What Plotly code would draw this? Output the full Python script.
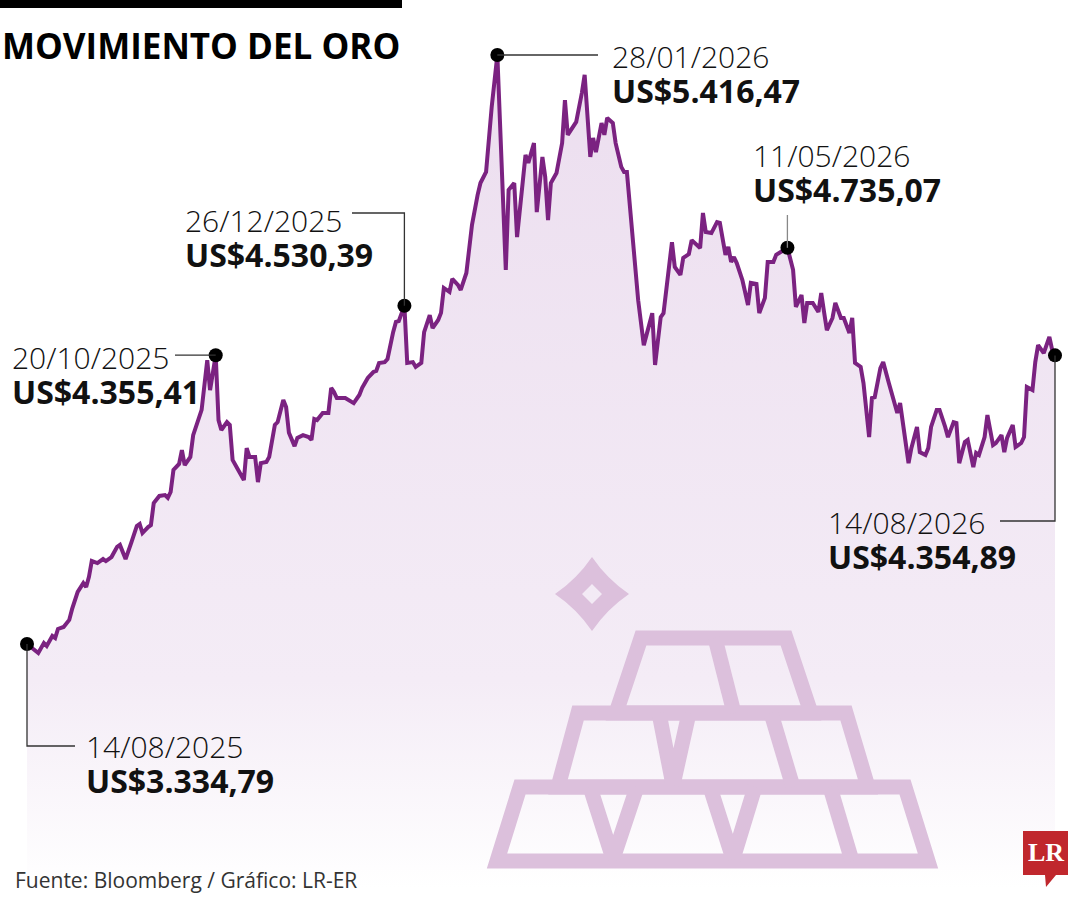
import plotly.graph_objects as go
import pandas as pd

# precio del oro (US$ por onza)
fechas = [
    "2025-08-14", "2025-08-18", "2025-08-20", "2025-08-21", "2025-08-23", "2025-08-24", "2025-08-25",
    "2025-08-27", "2025-08-29", "2025-08-30", "2025-09-01", "2025-09-03", "2025-09-04", "2025-09-05",
    "2025-09-06", "2025-09-08", "2025-09-10", "2025-09-11", "2025-09-13", "2025-09-15", "2025-09-16",
    "2025-09-18", "2025-09-20", "2025-09-22", "2025-09-23", "2025-09-24", "2025-09-26", "2025-09-27",
    "2025-09-28", "2025-09-30", "2025-10-02", "2025-10-03", "2025-10-04", "2025-10-05", "2025-10-07",
    "2025-10-08", "2025-10-09", "2025-10-11", "2025-10-12", "2025-10-13", "2025-10-15", "2025-10-17",
    "2025-10-18", "2025-10-20", "2025-10-21", "2025-10-22", "2025-10-24", "2025-10-25", "2025-10-26",
    "2025-10-28", "2025-10-30", "2025-10-31", "2025-11-01", "2025-11-03", "2025-11-04", "2025-11-05",
    "2025-11-07", "2025-11-08", "2025-11-10", "2025-11-11", "2025-11-13", "2025-11-14", "2025-11-15",
    "2025-11-17", "2025-11-18", "2025-11-20", "2025-11-22", "2025-11-23", "2025-11-24", "2025-11-25",
    "2025-11-27", "2025-11-29", "2025-11-30", "2025-12-01", "2025-12-02", "2025-12-05", "2025-12-07",
    "2025-12-08", "2025-12-10", "2025-12-11", "2025-12-13", "2025-12-15", "2025-12-16", "2025-12-17",
    "2025-12-19", "2025-12-20", "2025-12-22", "2025-12-23", "2025-12-24", "2025-12-26", "2025-12-27",
    "2025-12-29", "2025-12-30", "2026-01-01", "2026-01-02", "2026-01-04", "2026-01-05", "2026-01-07",
    "2026-01-08", "2026-01-09", "2026-01-11", "2026-01-12", "2026-01-14", "2026-01-15", "2026-01-17",
    "2026-01-18", "2026-01-19", "2026-01-21", "2026-01-22", "2026-01-24", "2026-01-26", "2026-01-28",
    "2026-01-29", "2026-01-30", "2026-01-31", "2026-02-01", "2026-02-03", "2026-02-04", "2026-02-06",
    "2026-02-07", "2026-02-08", "2026-02-10", "2026-02-11", "2026-02-13", "2026-02-14", "2026-02-15",
    "2026-02-16", "2026-02-18", "2026-02-20", "2026-02-21", "2026-02-22", "2026-02-24", "2026-02-25",
    "2026-02-27", "2026-02-28", "2026-03-02", "2026-03-03", "2026-03-04", "2026-03-06", "2026-03-07",
    "2026-03-08", "2026-03-10", "2026-03-11", "2026-03-13", "2026-03-14", "2026-03-15", "2026-03-17",
    "2026-03-19", "2026-03-21", "2026-03-23", "2026-03-24", "2026-03-25", "2026-03-27", "2026-03-28",
    "2026-03-30", "2026-03-31", "2026-04-01", "2026-04-03", "2026-04-04", "2026-04-06", "2026-04-07",
    "2026-04-09", "2026-04-10", "2026-04-11", "2026-04-12", "2026-04-14", "2026-04-16", "2026-04-17",
    "2026-04-19", "2026-04-20", "2026-04-21", "2026-04-22", "2026-04-23", "2026-04-25", "2026-04-27",
    "2026-04-28", "2026-04-30", "2026-05-01", "2026-05-03", "2026-05-04", "2026-05-06", "2026-05-07",
    "2026-05-11", "2026-05-13", "2026-05-14", "2026-05-16", "2026-05-17", "2026-05-18", "2026-05-20",
    "2026-05-22", "2026-05-23", "2026-05-24", "2026-05-25", "2026-05-27", "2026-05-28", "2026-05-30",
    "2026-05-31", "2026-06-02", "2026-06-03", "2026-06-04", "2026-06-06", "2026-06-07", "2026-06-09",
    "2026-06-10", "2026-06-11", "2026-06-13", "2026-06-14", "2026-06-16", "2026-06-18", "2026-06-19",
    "2026-06-20", "2026-06-21", "2026-06-23", "2026-06-24", "2026-06-26", "2026-06-27", "2026-06-29",
    "2026-06-30", "2026-07-01", "2026-07-03", "2026-07-04", "2026-07-06", "2026-07-07", "2026-07-09",
    "2026-07-10", "2026-07-11", "2026-07-13", "2026-07-14", "2026-07-16", "2026-07-17", "2026-07-18",
    "2026-07-20", "2026-07-21", "2026-07-23", "2026-07-24", "2026-07-26", "2026-07-27", "2026-07-28",
    "2026-07-30", "2026-07-31", "2026-08-02", "2026-08-03", "2026-08-04", "2026-08-06", "2026-08-07",
    "2026-08-08", "2026-08-10", "2026-08-12", "2026-08-13", "2026-08-14",
]
precios = [
    3334.79, 3303, 3338, 3328, 3363, 3356, 3388,
    3395, 3420, 3458, 3519, 3550, 3536, 3572,
    3628, 3621, 3635, 3628, 3642, 3678, 3685,
    3635, 3692, 3752, 3759, 3727, 3748, 3755,
    3833, 3858, 3861, 3851, 3872, 3950, 3971,
    4020, 3967, 3996, 4073, 4105, 4162, 4338,
    4232, 4355.41, 4126, 4091, 4119, 4109, 3985,
    3950, 3914, 4027, 3996, 3996, 3907, 3974,
    3978, 3996, 4109, 4119, 4197, 4172, 4081,
    4034, 4063, 4073, 4066, 4056, 4130, 4126,
    4151, 4151, 4240, 4225, 4204, 4204, 4190,
    4186, 4215, 4240, 4275, 4296, 4300, 4328,
    4331, 4342, 4437, 4473, 4476, 4530.39, 4328,
    4331, 4314, 4328, 4437, 4497, 4451, 4480,
    4505, 4593, 4579, 4625, 4604, 4586, 4646,
    4727, 4816, 4922, 4964, 5003, 5233, 5416.47,
    5176, 4879, 4657, 4939, 4964, 4773, 4964,
    5063, 5035, 5105, 4861, 5056, 4985, 4833,
    4964, 4999, 5105, 5257, 5134, 5162, 5180,
    5282, 5346, 5056, 5123, 5073, 5176, 5134,
    5194, 5176, 5105, 5021, 5003, 5003, 4762,
    4550, 4391, 4473, 4504, 4321, 4490, 4504,
    4657, 4755, 4667, 4639, 4699, 4713, 4762,
    4745, 4734, 4858, 4791, 4787, 4826, 4823,
    4710, 4738, 4685, 4702, 4681, 4621, 4533,
    4611, 4607, 4504, 4558, 4685, 4685, 4710,
    4735.07, 4657, 4526, 4568, 4469, 4540, 4540,
    4508, 4575, 4508, 4444, 4487, 4540, 4487,
    4487, 4434, 4487, 4328, 4314, 4257, 4066,
    4204, 4207, 4310, 4331, 4257, 4190, 4151,
    4186, 4116, 3974, 4027, 4102, 4013, 4003,
    4027, 4102, 4162, 4162, 4102, 4066, 4119,
    4116, 3974, 4049, 4056, 3960, 4010, 4003,
    4066, 4144, 4038, 4045, 4073, 4013, 4063,
    4109, 4031, 4045, 4066, 4243, 4232, 4331,
    4391, 4363, 4420, 4374, 4354.89,
]

hitos_fechas = ["2025-08-14", "2025-10-20", "2025-12-26", "2026-01-28", "2026-05-11", "2026-08-14"]
hitos_valores = [3334.79, 4355.41, 4530.39, 5416.47, 4735.07, 4354.89]
hitos_rotulos = ["14/08/2025", "20/10/2025", "26/12/2025", "28/01/2026", "11/05/2026", "14/08/2026"]

titulo = "MOVIMIENTO DEL ORO"
fuente = "Fuente: Bloomberg / Gráfico: LR-ER"

# --- escala en pixeles del lienzo ---
W, H = 1080, 900
X0_PX, X1_PX = 27, 1055
Y_TOP, Y_PX = 5610.7, 3.534  # valor en y=0 px, US$ por pixel
inicio = pd.Timestamp(fechas[0])
fin = pd.Timestamp(fechas[-1])
px_dia = (X1_PX - X0_PX) / (fin - inicio).days
rango_x = [
    (inicio - pd.Timedelta(days=X0_PX / px_dia)).isoformat(),
    (fin + pd.Timedelta(days=(W - X1_PX) / px_dia)).isoformat(),
]
rango_y = [Y_TOP - Y_PX * H, Y_TOP]


def px(f):
    return X0_PX + (pd.Timestamp(f) - inicio).days * px_dia


def py(v):
    return (Y_TOP - v) / Y_PX


def formato(v):
    s = f"{v:,.2f}"
    return "US$" + s.replace(",", "X").replace(".", ",").replace("X", ".")


MORADO = "#7b2281"
LILA = "#dcc0dc"
FONT = "Open Sans"

fig = go.Figure()

fig.add_trace(
    go.Scatter(
        x=fechas,
        y=precios,
        mode="lines",
        line=dict(color=MORADO, width=4),
        fill="tozeroy",
        fillgradient=dict(
            type="vertical",
            colorscale=[[0, "#ffffff"], [0.25, "#f4ecf6"], [1, "#ecdeef"]],
            start=rango_y[0] + 40,
            stop=5416,
        ),
        hoverinfo="skip",
        showlegend=False,
    )
)
fig.add_trace(
    go.Scatter(
        x=hitos_fechas,
        y=hitos_valores,
        mode="markers",
        marker=dict(color="black", size=14),
        hoverinfo="skip",
        showlegend=False,
    )
)
# eje auxiliar en pixeles
fig.add_trace(go.Scatter(x=[], y=[], xaxis="x2", yaxis="y2", showlegend=False))

# posicion de cada rotulo: x y centro vertical del bloque fecha + valor
pos_rotulos = [(84, 764), (10, 375), (183, 238), (610, 74), (751, 173), (826, 540)]
puntos = [(px(f), py(v)) for f, v in zip(hitos_fechas, hitos_valores)]
guias = [
    [puntos[0], (puntos[0][0], 746), (75, 746)],
    [(175, puntos[1][1]), puntos[1]],
    [(352, 213), (puntos[2][0], 213), puntos[2]],
    [puntos[3], (598, puntos[3][1])],
    [(puntos[4][0], 215), puntos[4]],
    [puntos[5], (puntos[5][0], 521), (1000, 521)],
]

shapes = []
for i, g in enumerate(guias):
    path = "M" + " L".join(f"{a:.1f},{b:.1f}" for a, b in g)
    shapes.append(dict(type="path", path=path, xref="x2", yref="y2",
                       line=dict(color="#888" if i == 4 else "#333", width=1.3)))

# barra negra del titulo
shapes.append(dict(type="rect", x0=0, x1=402, y0=0, y1=8, xref="x2", yref="y2",
                   fillcolor="black", line=dict(width=0)))

# icono: lingotes y destello
lingotes = [
    "M641,638 L786,638 L811,713 L616,713 Z",
    "M578,713 L846,713 L868,787 L558,787 Z",
    "M520,787 L905,787 L928,861 L497,861 Z",
    "M715,638 L734,713",
    "M659,713 L673,785 M689,713 L673,785",
    "M771,713 L793,787",
    "M590,787 L613,859 M637,787 L613,859",
    "M710,787 L733,859 M755,787 L733,859",
    "M830,787 L852,861",
]
for p in lingotes:
    shapes.append(dict(type="path", path=p, xref="x2", yref="y2",
                       line=dict(color=LILA, width=15)))
shapes.append(dict(
    type="path", xref="x2", yref="y2", fillcolor=LILA, line=dict(width=0),
    path=("M592,557 Q607,579 629,594 Q607,609 592,631 Q577,609 555,594 Q577,579 592,557 Z "
          "M592,584 L582,594 L592,604 L602,594 Z"),
))

# logo LR
shapes.append(dict(
    type="path", xref="x2", yref="y2", fillcolor="#c0272d", line=dict(width=0),
    path="M1023,831 L1068,831 L1068,875 L1056,875 L1046,887 L1045,875 L1023,875 Z",
))

annotations = []
for (xa, ya), rot, v in zip(pos_rotulos, hitos_rotulos, hitos_valores):
    texto = (f"<span style='font-size:30px;font-weight:300'>{rot}</span><br>"
             f"<span style='font-size:32px;font-weight:700'>{formato(v)}</span>")
    annotations.append(dict(x=xa, y=ya, text=texto, xref="x2", yref="y2", showarrow=False,
                            xanchor="left", yanchor="middle", align="left",
                            font=dict(family=FONT, size=27, color="#111", weight=300)))

annotations.append(dict(x=0, y=45, text=titulo, xref="x2", yref="y2", showarrow=False,
                        xanchor="left", yanchor="middle",
                        font=dict(family=FONT, size=35, color="black", weight="bold")))
annotations.append(dict(x=13, y=880, text=fuente, xref="x2", yref="y2", showarrow=False,
                        xanchor="left", yanchor="middle",
                        font=dict(family=FONT, size=21, color="#333")))
annotations.append(dict(x=1045.5, y=852, text="LR", xref="x2", yref="y2", showarrow=False,
                        xanchor="center", yanchor="middle",
                        font=dict(family="Liberation Serif", size=26, color="white", weight="bold")))

fig.update_layout(
    width=W,
    height=H,
    margin=dict(l=0, r=0, t=0, b=0),
    paper_bgcolor="white",
    plot_bgcolor="white",
    xaxis=dict(type="date", range=rango_x, visible=False, fixedrange=True),
    yaxis=dict(range=rango_y, visible=False, fixedrange=True),
    xaxis2=dict(range=[0, W], overlaying="x", visible=False, fixedrange=True),
    yaxis2=dict(range=[H, 0], overlaying="y", visible=False, fixedrange=True),
    shapes=shapes,
    annotations=annotations,
    showlegend=False,
)

# sin margen de pagina, para que el lienzo ocupe la ventana entera
fig.write_html(
    "out.html",
    config={"displayModeBar": False},
    post_script="document.body.style.margin='0px';",
)
